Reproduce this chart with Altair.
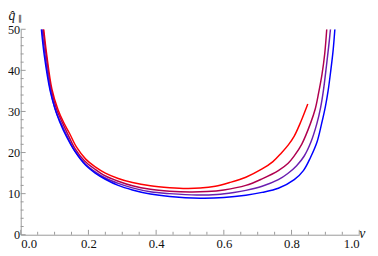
import altair as alt
import pandas as pd

# curve data (nu, q)
red_x = [0.068, 0.077, 0.092, 0.11, 0.127, 0.144, 0.165, 0.192, 0.22, 0.25, 0.288, 0.33, 0.383, 0.44, 0.49,
         0.53, 0.575, 0.617, 0.665, 0.713, 0.745, 0.77, 0.79, 0.808, 0.828, 0.848]
red_y = [50, 43.7, 35.5, 30.5, 27.3, 24.7, 21.3, 18.4, 16.5, 15.0, 13.7, 12.7, 11.9, 11.45, 11.25,
         11.35, 11.8, 12.7, 14.0, 16.0, 17.8, 19.9, 21.8, 24.0, 27.6, 31.8]

crim_x = [0.066, 0.075, 0.09, 0.107, 0.123, 0.14, 0.16, 0.188, 0.22, 0.25, 0.288, 0.33, 0.383, 0.44, 0.50,
          0.55, 0.60, 0.665, 0.713, 0.761, 0.79, 0.808, 0.83, 0.856, 0.87, 0.88, 0.89, 0.898, 0.904]
crim_y = [50, 43.7, 35.3, 30.3, 27.3, 24.3, 21.0, 18.0, 15.9, 14.3, 13.0, 11.9, 11.05, 10.6, 10.4,
          10.5, 10.9, 12.0, 13.6, 15.6, 17.4, 19.2, 22.0, 27.1, 30.6, 34.5, 39.0, 44.0, 50]

purp_x = [0.063, 0.072, 0.088, 0.104, 0.12, 0.137, 0.157, 0.19, 0.22, 0.25, 0.288, 0.33, 0.383, 0.44, 0.52,
          0.58, 0.63, 0.665, 0.713, 0.761, 0.789, 0.815, 0.837, 0.857, 0.875, 0.886, 0.894, 0.903, 0.91, 0.915]
purp_y = [50, 43.7, 35.2, 30.0, 27.0, 24.0, 20.8, 17.3, 15.3, 13.8, 12.5, 11.4, 10.45, 10.0, 9.65,
          9.8, 10.3, 10.8, 11.8, 13.4, 14.9, 16.8, 19.1, 22.5, 27.1, 31.0, 35.0, 41.0, 46.0, 50]

blue_x = [0.061, 0.0695, 0.087, 0.1, 0.115, 0.135, 0.16, 0.192, 0.22, 0.25, 0.288, 0.33, 0.383, 0.44, 0.53,
          0.60, 0.665, 0.713, 0.761, 0.808, 0.835, 0.856, 0.875, 0.889, 0.90, 0.908, 0.916, 0.923, 0.928]
blue_y = [50, 43.7, 35.0, 31.0, 27.5, 23.9, 20.3, 16.9, 15.0, 13.5, 12.0, 10.9, 9.9, 9.3, 8.9,
          9.05, 9.6, 10.3, 11.3, 13.4, 15.6, 18.8, 22.5, 27.1, 31.2, 35.0, 40.0, 45.0, 50]

names = ["c1", "c2", "c3", "c4"]
colors = ["#ff0000", "#b0004f", "#6a1fb0", "#0000ff"]

x_major = [0.0, 0.2, 0.4, 0.6, 0.8, 1.0]
x_minor = [0.05, 0.1, 0.15, 0.25, 0.3, 0.35, 0.45, 0.5, 0.55, 0.65, 0.7, 0.75, 0.85, 0.9, 0.95]
y_major = [0, 10, 20, 30, 40, 50]
y_minor = [2, 4, 6, 8, 12, 14, 16, 18, 22, 24, 26, 28, 32, 34, 36, 38, 42, 44, 46, 48]

rows = []
for n, xs_, ys_ in zip(names, [red_x, crim_x, purp_x, blue_x], [red_y, crim_y, purp_y, blue_y]):
    for i, (a, b) in enumerate(zip(xs_, ys_)):
        rows.append({"curve": n, "x": a, "q": b, "i": i})
df = pd.DataFrame(rows)

W, H = 346, 210
AX = "#999999"
FONT = "Liberation Serif, Times New Roman, serif"
xsc = alt.Scale(domain=[0, 1], nice=False, zero=False)
ysc = alt.Scale(domain=[0, 50], nice=False, zero=False)
xaxis = alt.Axis(values=x_major, format=".1f", tickSize=0, domainColor=AX, domainWidth=1,
                 labelFont=FONT, labelFontSize=13, labelColor="#111", grid=False, title=None,
                 labelPadding=3)
yaxis = alt.Axis(values=y_major, format="d", tickSize=0, domainColor=AX, domainWidth=1,
                 labelFont=FONT, labelFontSize=12.5, labelColor="#111", grid=False, title=None,
                 labelPadding=1)

lines = alt.Chart(df).mark_line(strokeWidth=1.5, clip=True, interpolate="catmull-rom").encode(
    x=alt.X("x:Q", scale=xsc, axis=xaxis),
    y=alt.Y("q:Q", scale=ysc, axis=yaxis),
    color=alt.Color("curve:N", scale=alt.Scale(domain=names, range=colors), legend=None),
    order="i:Q",
)

xmaj = alt.Chart(pd.DataFrame({"x": x_major})).mark_rule(color=AX, strokeWidth=1).encode(
    x=alt.X("x:Q", scale=xsc, axis=xaxis), y=alt.value(H), y2=alt.value(H - 5))
xmin = alt.Chart(pd.DataFrame({"x": x_minor})).mark_rule(color=AX, strokeWidth=1).encode(
    x=alt.X("x:Q", scale=xsc, axis=xaxis), y=alt.value(H), y2=alt.value(H - 3))
ymaj = alt.Chart(pd.DataFrame({"q": y_major})).mark_rule(color=AX, strokeWidth=1).encode(
    y=alt.Y("q:Q", scale=ysc, axis=yaxis), x=alt.value(0), x2=alt.value(5))
ymin = alt.Chart(pd.DataFrame({"q": y_minor})).mark_rule(color=AX, strokeWidth=1).encode(
    y=alt.Y("q:Q", scale=ysc, axis=yaxis), x=alt.value(0), x2=alt.value(3))

nu = alt.Chart(pd.DataFrame({"s": ["ν"]})).mark_text(font=FONT, fontSize=14, fontStyle="italic",
                                                     align="left", baseline="middle", color="#111").encode(
    text="s:N", x=alt.value(346), y=alt.value(209))
qhat = alt.Chart(pd.DataFrame({"s": ["q̂"]})).mark_text(font=FONT, fontSize=14, fontStyle="italic",
                                                      align="center", baseline="alphabetic", color="#111").encode(
    text="s:N", x=alt.value(-9), y=alt.value(-9))
sub = alt.Chart(pd.DataFrame({"s": ["∥"]})).mark_text(font=FONT, fontSize=8, align="center",
                                                     baseline="middle", color="#111").encode(
    text="s:N", x=alt.value(-1), y=alt.value(-10))

chart = alt.layer(lines, xmin, xmaj, ymin, ymaj, nu, qhat, sub).properties(
    width=W, height=H,
    autosize=alt.AutoSizeParams(type="none"),
    padding={"left": 13, "top": 19, "right": 11, "bottom": 19},
).configure_view(stroke=None)

chart.save("out.html", embed_options={"renderer": "svg", "actions": False})
